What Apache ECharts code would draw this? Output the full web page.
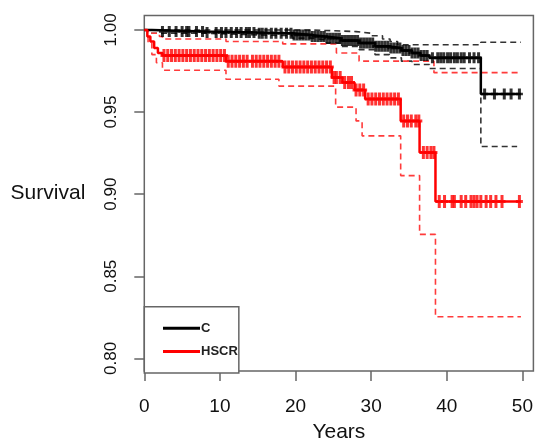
<!DOCTYPE html>
<html>
<head>
<meta charset="utf-8">
<script src="https://cdn.jsdelivr.net/npm/echarts@6/dist/echarts.min.js"></script>
<style>
html,body{margin:0;padding:0;background:#fff;}
#chart{width:536px;height:448px;}
</style>
</head>
<body>
<div id="chart"></div>
<script>
// ---- Data ----
var xTicks = [0, 10, 20, 30, 40, 50];
var yTicks = [0.80, 0.85, 0.90, 0.95, 1.00];

// Group C (black): Kaplan-Meier steps
var cTime = [0, 1, 8, 15, 19.6, 22, 24, 26, 28.4, 30.5, 32.4, 34, 35.4, 36.5, 37.7, 44.5, 49.8];
var cSurv = [1.0, 0.999, 0.9985, 0.998, 0.997, 0.996, 0.995, 0.9935, 0.992, 0.990, 0.989, 0.9875, 0.986, 0.9845, 0.983, 0.961, 0.961];
var cUpTime = [0, 20, 22, 25, 28, 30, 31.5, 32.5, 33.5, 44.5, 49.8];
var cUpVal  = [1.0, 1.0, 0.9995, 0.999, 0.998, 0.9965, 0.9945, 0.993, 0.991, 0.9925, 0.9925];
var cLoTime = [0, 1, 8, 15, 19.6, 22, 24, 26, 28.4, 30.5, 32.4, 34, 35.4, 37.7, 44.5, 49.3];
var cLoVal  = [1.0, 0.998, 0.997, 0.9965, 0.995, 0.994, 0.992, 0.990, 0.988, 0.985, 0.983, 0.981, 0.979, 0.9765, 0.929, 0.929];
var cCens = [2.4, 3.3, 4.2, 5.0, 5.6, 5.9, 6.9, 7.7, 8.3, 9.5, 10.2, 10.8, 11.5, 12.2, 12.8, 13.5, 13.9, 14.5, 15.2, 15.6, 16.1, 16.8, 17.4, 18.1, 18.8, 19.4, 19.8, 20.2, 20.6, 21.0, 21.4, 21.8, 22.2, 22.6, 23.0, 23.4, 23.8, 24.2, 24.6, 25.0, 25.4, 25.8, 26.2, 26.6, 27.0, 27.4, 27.8, 28.2, 28.6, 29.0, 29.4, 29.8, 30.2, 30.6, 31.0, 31.4, 31.8, 32.2, 32.6, 33.0, 33.4, 33.8, 34.2, 34.6, 35.0, 35.4, 35.8, 36.2, 36.6, 37.0, 37.4, 38.1, 38.8, 39.2, 39.6, 40.1, 40.5, 41.0, 41.4, 41.9, 42.3, 43.0, 43.6, 44.2, 45.0, 46.3, 47.6, 48.5, 49.6];

// Group HSCR (red): Kaplan-Meier steps
var hTime = [0, 0.4, 0.8, 1.3, 1.8, 2.4, 10.8, 18.3, 24.8, 26.2, 27.8, 29.2, 33.9, 36.4, 38.5, 49.8];
var hSurv = [1.0, 0.996, 0.993, 0.989, 0.986, 0.9845, 0.981, 0.9775, 0.971, 0.968, 0.9635, 0.958, 0.9445, 0.9253, 0.8955, 0.8955];
var hUpTime = [0, 1.0, 2.0, 2.4, 10.8, 18.3, 25.4, 28.4, 38.3, 49.8];
var hUpVal  = [1.0, 0.998, 0.996, 0.9945, 0.993, 0.9915, 0.986, 0.981, 0.974, 0.974];
var hLoTime = [0, 0.5, 1.0, 1.6, 2.4, 10.8, 17.8, 25.3, 28.0, 28.8, 33.9, 36.4, 38.5, 49.8];
var hLoVal  = [1.0, 0.992, 0.985, 0.980, 0.9755, 0.970, 0.9658, 0.953, 0.9446, 0.9355, 0.9113, 0.8755, 0.8253, 0.8253];
var hCens = [2.6, 3.1, 3.6, 4.1, 4.6, 5.1, 5.6, 6.1, 6.6, 7.1, 7.6, 8.1, 8.6, 9.1, 9.6, 10.1, 10.6, 11.1, 11.6, 12.1, 12.6, 13.1, 13.6, 14.3, 14.8, 15.3, 15.8, 16.3, 16.8, 17.3, 17.8, 18.6, 19.1, 19.6, 20.1, 20.6, 21.1, 21.6, 22.1, 22.6, 23.1, 23.6, 24.1, 24.6, 25.1, 25.4, 25.9, 26.5, 27.0, 27.4, 28.0, 28.5, 29.0, 29.6, 30.1, 30.6, 31.1, 31.6, 32.1, 32.6, 33.1, 33.6, 34.3, 34.8, 35.3, 35.9, 36.3, 36.9, 37.4, 37.9, 38.3, 39.0, 39.7, 40.7, 41.0, 41.9, 42.5, 43.2, 43.6, 44.0, 44.5, 45.2, 45.8, 46.5, 47.3, 49.6];

// ---- helpers ----
function pairs(t, v) { return t.map(function (x, i) { return [x, v[i]]; }); }
function stepAt(t, v, x) {
  var k = 0;
  for (var i = 0; i < t.length; i++) { if (t[i] <= x) k = i; }
  return v[k];
}
function censPoints(cens, t, v) { return cens.map(function (x) { return [x, stepAt(t, v, x)]; }); }

var plus = 'path://M2,0H5V5H7V8H5V13H2V8H0V5H2Z';
var fontFam = '"Liberation Sans", Arial, Helvetica, sans-serif';

function stepLine(name, data, color, width, dashed, z) {
  return {
    name: name, type: 'line', step: 'end', data: data,
    showSymbol: false, symbol: 'none', z: z,
    lineStyle: { color: color, width: width, type: dashed ? [6, 4] : 'solid' },
    itemStyle: { color: color },
    emphasis: { disabled: true }, silent: true
  };
}

var chart = echarts.init(document.getElementById('chart'), null, { renderer: 'canvas' });
chart.setOption({
  animation: false,
  backgroundColor: '#fff',
  grid: { left: 144.3, right: 1.7, top: 15.5, bottom: 74.5, show: true, borderColor: '#666', borderWidth: 1.5, backgroundColor: 'transparent' },
  legend: {
    data: ['C', 'HSCR'],
    orient: 'vertical', left: 144.3, top: 306.7,
    padding: [15, 1, 15, 18.7],
    itemWidth: 37, itemHeight: 3, itemGap: 10.4,
    icon: 'rect',
    borderColor: '#666', borderWidth: 1.5, borderRadius: 0,
    backgroundColor: '#fff',
    textStyle: { fontSize: 13, fontWeight: 'bold', color: '#222', fontFamily: fontFam, padding: [0, 0, 0, -4] },
    selectedMode: false
  },
  xAxis: {
    type: 'value', min: 0, max: 51.45,
    name: 'Years', nameLocation: 'middle', nameGap: 51,
    nameTextStyle: { fontSize: 21, color: '#111', fontFamily: fontFam },
    axisLine: { show: false },
    axisTick: { show: true, length: 10, customValues: xTicks, lineStyle: { color: '#666', width: 1.5 } },
    axisLabel: { customValues: xTicks, margin: 26, fontSize: 19, color: '#111', fontFamily: fontFam },
    splitLine: { show: false }
  },
  yAxis: {
    type: 'value', min: 0.7923, max: 1.0088,
    name: 'Survival', nameLocation: 'middle', nameRotate: 0, nameGap: 59,
    nameTextStyle: { fontSize: 21, color: '#111', fontFamily: fontFam },
    axisLine: { show: false },
    axisTick: { show: true, length: 10, customValues: yTicks, lineStyle: { color: '#666', width: 1.5 } },
    axisLabel: { customValues: yTicks, rotate: 90, margin: 24, fontSize: 17, color: '#111', fontFamily: fontFam,
      formatter: function (v) { return v.toFixed(2); } },
    splitLine: { show: false }
  },
  series: [
    stepLine('C upper', pairs(cUpTime, cUpVal), '#333', 1.6, true, 2),
    stepLine('C lower', pairs(cLoTime, cLoVal), '#333', 1.6, true, 2),
    stepLine('HSCR upper', pairs(hUpTime, hUpVal), '#ff3b3b', 1.6, true, 2),
    stepLine('HSCR lower', pairs(hLoTime, hLoVal), '#ff3b3b', 1.6, true, 2),
    stepLine('C', pairs(cTime, cSurv), '#000', 2.5, false, 3),
    stepLine('HSCR', pairs(hTime, hSurv), '#ff0000', 2.5, false, 3),
    {
      name: 'C censored', type: 'scatter', data: censPoints(cCens, cTime, cSurv),
      symbol: plus, symbolSize: [7, 11], z: 4, silent: true,
      itemStyle: { color: '#000' }
    },
    {
      name: 'HSCR censored', type: 'scatter', data: censPoints(hCens, hTime, hSurv),
      symbol: plus, symbolSize: [7, 13], z: 4, silent: true,
      itemStyle: { color: '#ff0000' }
    }
  ]
});
</script>
</body>
</html>
